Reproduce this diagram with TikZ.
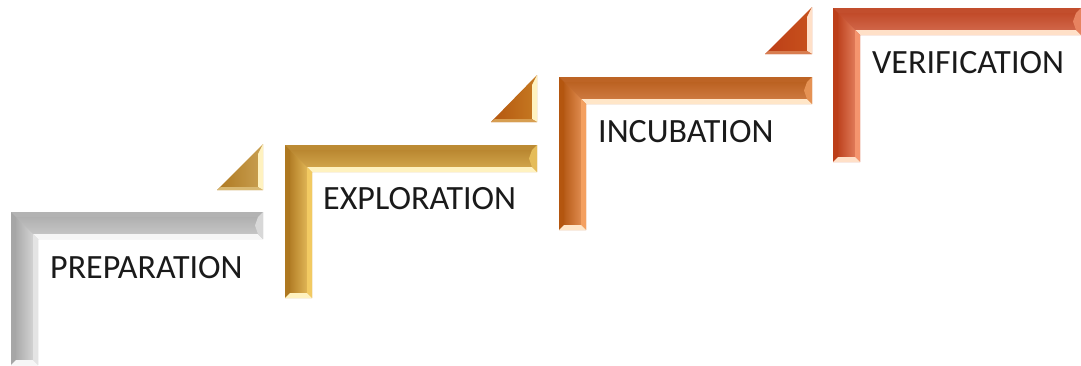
\documentclass[tikz,border=0pt]{standalone}
\usepackage{fontspec}
\setmainfont{Carlito}
\definecolor{gyB}{HTML}{BDBDBD}\definecolor{gyD}{HTML}{A6A6A6}\definecolor{gyL}{HTML}{E4E4E4}\definecolor{gyH}{HTML}{F6F6F6}
\definecolor{gdB}{HTML}{C89A45}\definecolor{gdD}{HTML}{AE7820}\definecolor{gdL}{HTML}{F2CA62}\definecolor{gdH}{HTML}{FFF2C0}
\definecolor{orB}{HTML}{C47038}\definecolor{orD}{HTML}{B4560F}\definecolor{orL}{HTML}{F4A060}\definecolor{orH}{HTML}{FFE6C8}
\definecolor{rdB}{HTML}{C75A3F}\definecolor{rdD}{HTML}{BC3E18}\definecolor{rdL}{HTML}{F5956E}\definecolor{rdH}{HTML}{FFE0C8}
\definecolor{t1B}{HTML}{C9A052}\definecolor{t2B}{HTML}{C67A22}\definecolor{t3B}{HTML}{C8521C}
\definecolor{txt}{HTML}{1A1A1A}
% L-shaped beveled bracket: x0,y0 (outer corner), x1 (right end), y1 (bottom end), base, dark, light, highlight
\newcommand\stepL[8]{%
  \fill[#5] (#1,#2) -- (#3,#2) -- (#3,#2+27) -- (#1+27,#2+27) -- (#1+27,#4) -- (#1,#4) -- cycle;
  \shade[top color=#6!55!#5, bottom color=#5!80!#7] (#1+5,#2+5) -- (#3-5,#2+5) -- (#3-5,#2+22) -- (#1+22,#2+22) -- cycle;
  \shade[left color=#6!80!#5, right color=#7!55!#5] (#1+5,#2+5) -- (#1+22,#2+22) -- (#1+22,#4-5) -- (#1+5,#4-5) -- cycle;
  \fill[#6!45!#5] (#1,#2) -- (#3,#2) -- (#3-5,#2+5) -- (#1+5,#2+5) -- cycle;
  \fill[#6] (#1,#2) -- (#1+5,#2+5) -- (#1+5,#4-5) -- (#1,#4) -- cycle;
  \fill[#8] (#1+27,#2+27) -- (#3,#2+27) -- (#3-5,#2+22) -- (#1+22,#2+22) -- cycle;
  \fill[#7] (#1+27,#2+27) -- (#1+27,#4) -- (#1+22,#4-5) -- (#1+22,#2+22) -- cycle;
  \fill[#7!70!#5] (#3,#2) -- (#3,#2+27) -- (#3-5,#2+22) -- (#3-8,#2+13.5) -- (#3-5,#2+5) -- cycle;
  \fill[#8] (#1,#4) -- (#1+27,#4) -- (#1+22,#4-5) -- (#1+5,#4-5) -- cycle;
}
% beveled right triangle: xl, yb, xr, yt, base, dark, light
\newcommand\stepT[7]{%
  \shade[left color=#6, right color=#5] (#1,#2) -- (#3,#2) -- (#3,#4) -- cycle;
  \fill[#7] (#3,#4) -- (#3,#2) -- (#3-5,#2-3) -- (#3-5,#4+10) -- cycle;
  \fill[#5!70!#7] (#1,#2) -- (#3,#2) -- (#3-5,#2-3) -- (#1+4,#2-3) -- cycle;
}
\begin{document}
\begin{tikzpicture}[x=1pt,y=-1pt,
  lbl/.style={anchor=base west, inner sep=0pt, font=\fontsize{34}{40}\selectfont, text=txt}]
\useasboundingbox (0,0) rectangle (1081,365);
\stepL{11}{212}{263}{365}{gyB}{gyD}{gyL}{gyH}
\stepL{285}{145}{537}{298}{gdB}{gdD}{gdL}{gdH}
\stepL{559}{77}{812}{230}{orB}{orD}{orL}{orH}
\stepL{833}{8}{1081}{162}{rdB}{rdD}{rdL}{rdH}
\stepT{217}{190}{263}{144}{t1B}{gdD}{gdH}
\stepT{491}{122}{537}{75}{t2B}{orD}{gdH}
\stepT{765}{54}{812}{7}{t3B}{rdD}{rdH}
\node[lbl] (prep) at (50,278) {PREPARATION};
\node[lbl] (expl) at (323,209) {EXPLORATION};
\node[lbl] (incu) at (598,142) {INCUBATION};
\node[lbl] (veri) at (872,73) {VERIFICATION};
\end{tikzpicture}
\end{document}
